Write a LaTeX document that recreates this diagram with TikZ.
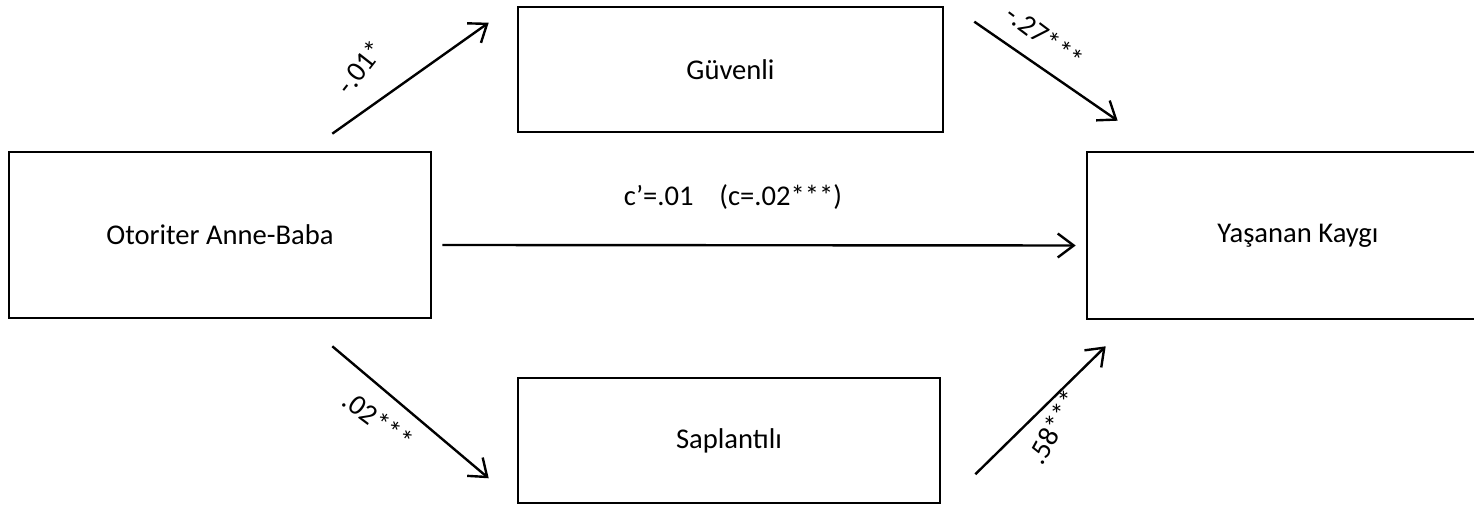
\documentclass[tikz,border=0pt]{standalone}
\usepackage{fontspec}
\setmainfont{Carlito}
\usetikzlibrary{arrows.meta, positioning}

\begin{document}
\begin{tikzpicture}[x=0.5pt, y=-0.5pt, font=\fontsize{14.3}{17}\selectfont,
    varbox/.style={draw, line width=1.3pt, rectangle, inner sep=0pt},
    link/.style={line width=1.2pt, arrows={-Straight Barb[length=8pt, width=12pt, line width=1.2pt]}},
    coef/.style={inner sep=1pt}]
    \useasboundingbox (0,0) rectangle (1474,506);
    % Nodes
    \node[varbox, minimum width=211pt, minimum height=83pt] (authoritarian) at (220,235) {Otoriter Anne-Baba};
    \node[varbox, minimum width=212.5pt, minimum height=62.5pt] (secure) at (730.5,69.5) {Güvenli};
    \node[varbox, minimum width=211pt, minimum height=62.5pt] (preoccupied) at (729,440.5) {Saplantılı};
    \node[varbox, minimum width=211pt, minimum height=83.5pt] (anxiety) at (1298,235.5) {Yaşanan Kaygı};

    % Coefficients
    \node[coef, rotate=52] (a1) at (360,67) {-.01*};
    \node[coef, rotate=-37] (b1) at (1045,37) {-.27***};
    \node[coef, rotate=-37] (a2) at (378,420) {.02***};
    \node[coef, rotate=61] (b2) at (1053,427) {.58***};
    \node[coef] (direct) at (733,197) {c’=.01\hspace{0.9em}(c=.02***)};

    % Connections
    \draw[link] ([xshift=-50pt, yshift=8.5pt]authoritarian.north east) to ([xshift=-14pt, yshift=-8.5pt]secure.north west);
    \draw[link] ([xshift=15pt, yshift=-8pt]secure.north east) to ([xshift=16pt, yshift=15pt]anxiety.north west);
    \draw[link] ([xshift=-50pt, yshift=-13.5pt]authoritarian.south east) to ([xshift=-14pt, yshift=13pt]preoccupied.south west);
    \draw[link] ([xshift=17pt, yshift=15pt]preoccupied.south east) to ([xshift=10pt, yshift=-13pt]anxiety.south west);
    \draw[link] ([xshift=5pt, yshift=-5pt]authoritarian.east) to ([xshift=-5pt, yshift=-5pt]anxiety.west);
\end{tikzpicture}
\end{document}
